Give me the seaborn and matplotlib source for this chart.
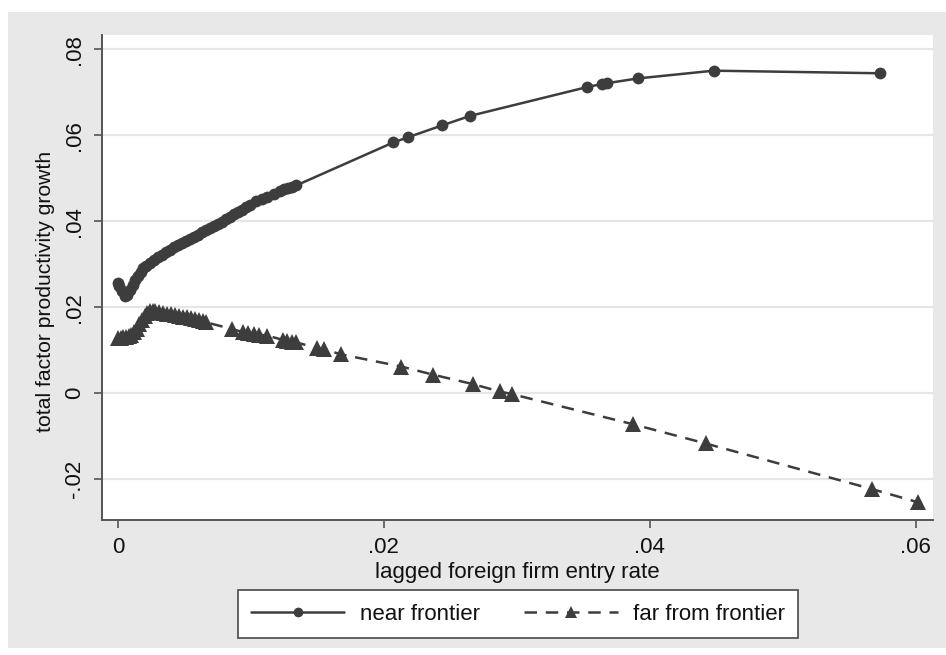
import numpy as np
import pandas as pd
import matplotlib
matplotlib.use("Agg")
import matplotlib.pyplot as plt
from matplotlib.patches import Rectangle
from matplotlib.lines import Line2D
import seaborn as sns

# Fitted TFP growth against lagged foreign entry, by distance to the frontier
near_x = [0.0000, 0.0001, 0.0003, 0.0005, 0.0007, 0.0009, 0.0011, 0.0013, 0.0015,
          0.0017, 0.0019, 0.0021, 0.0024, 0.0027, 0.0030, 0.0033, 0.0036, 0.0039,
          0.0042, 0.0045, 0.0048, 0.0051, 0.0054, 0.0057, 0.0060, 0.0063, 0.0066,
          0.0069, 0.0072, 0.0075, 0.0078, 0.0081, 0.0084, 0.0087, 0.0090, 0.0093,
          0.0096, 0.0099, 0.0104, 0.0108, 0.0112, 0.0117, 0.0122, 0.0125, 0.0128,
          0.0131, 0.0134, 0.0207, 0.0218, 0.0244, 0.0265, 0.0353, 0.0364, 0.0368,
          0.0391, 0.0448, 0.0573]
near_y = [0.0256, 0.0250, 0.0238, 0.0225, 0.0228, 0.0240, 0.0252, 0.0263, 0.0273,
          0.0282, 0.0290, 0.0296, 0.0303, 0.0310, 0.0316, 0.0322, 0.0328, 0.0334,
          0.0339, 0.0344, 0.0349, 0.0354, 0.0359, 0.0364, 0.0369, 0.0374, 0.0379,
          0.0384, 0.0389, 0.0394, 0.0399, 0.0404, 0.0410, 0.0416, 0.0421, 0.0427,
          0.0432, 0.0437, 0.0447, 0.0452, 0.0456, 0.0463, 0.0470, 0.0474, 0.0477,
          0.0480, 0.0483, 0.0583, 0.0595, 0.0623, 0.0645, 0.0712, 0.0719, 0.0721,
          0.0732, 0.0750, 0.0744]

far_x = [0.0000, 0.0002, 0.0004, 0.0006, 0.0008, 0.0010, 0.0012, 0.0014, 0.0016,
         0.0018, 0.0020, 0.0022, 0.0024, 0.0026, 0.0028, 0.0031, 0.0034, 0.0037,
         0.0040, 0.0043, 0.0046, 0.0049, 0.0052, 0.0055, 0.0058, 0.0061, 0.0064,
         0.0066, 0.0086, 0.0094, 0.0098, 0.0102, 0.0106, 0.0112, 0.0124, 0.0127,
         0.0131, 0.0134, 0.0150, 0.0155, 0.0168, 0.0213, 0.0237, 0.0267, 0.0287,
         0.0296, 0.0387, 0.0442, 0.0567, 0.0602]
far_y = [0.0128, 0.0129, 0.0130, 0.0131, 0.0133, 0.0136, 0.0142, 0.0150, 0.0160,
         0.0170, 0.0179, 0.0186, 0.0191, 0.0192, 0.0191, 0.0189, 0.0187, 0.0185,
         0.0183, 0.0181, 0.0179, 0.0178, 0.0177, 0.0175, 0.0173, 0.0171, 0.0168,
         0.0165, 0.0149, 0.0142, 0.0140, 0.0138, 0.0136, 0.0134, 0.0124, 0.0122,
         0.0120, 0.0118, 0.0105, 0.0102, 0.0090, 0.0062, 0.0043, 0.0021, 0.0004,
         -0.0002, -0.0072, -0.0117, -0.0223, -0.0254]

x_ticks = [0, 0.02, 0.04, 0.06]
x_tick_labels = ["0", ".02", ".04", ".06"]
y_ticks = [-0.02, 0, 0.02, 0.04, 0.06, 0.08]
y_tick_labels = ["-.02", "0", ".02", ".04", ".06", ".08"]

series_names = ["near frontier", "far from frontier"]

sns.set_theme(style="white")
plt.rcParams["font.family"] = ["Liberation Sans", "DejaVu Sans"]

ink = "#3d3d3d"
panel_gray = "#e8e8e8"
text_color = "#111111"
fs = 16

fig = plt.figure(figsize=(9.46, 6.55), dpi=100)
fig.patch.set_facecolor("white")
backdrop = Rectangle((8 / 946, 1 - 648 / 655), 938 / 946, 636 / 655,
                     transform=fig.transFigure, facecolor=panel_gray,
                     edgecolor="none", zorder=-10)
fig.add_artist(backdrop)

ax = fig.add_axes([102 / 946, 1 - 520 / 655, 831 / 946, 485 / 655])
ax.set_facecolor("white")

near = pd.DataFrame({"x": near_x, "y": near_y})
far = pd.DataFrame({"x": far_x, "y": far_y})

sns.lineplot(data=near, x="x", y="y", ax=ax, sort=False, estimator=None,
             color=ink, linewidth=1.8, marker="o", markersize=8.5,
             markeredgewidth=0, zorder=3)
sns.lineplot(data=far, x="x", y="y", ax=ax, sort=False, estimator=None,
             color=ink, linewidth=1.8, linestyle=(0, (5, 3.5)), marker="^",
             markersize=11, markeredgewidth=0, zorder=3)

ax.set_xlim(-0.0012, 0.0613)
ax.set_ylim(-0.0295, 0.0833)

ax.set_xticks(x_ticks)
ax.set_xticklabels(x_tick_labels)
ax.set_yticks(y_ticks)
ax.set_yticklabels(y_tick_labels, rotation=90, va="center")

for yv in y_ticks:
    ax.axhline(yv, color="#e6e6e6", linewidth=1.6, zorder=1)

for side in ["top", "right"]:
    ax.spines[side].set_visible(False)
for side in ["left", "bottom"]:
    ax.spines[side].set_color("#555555")
    ax.spines[side].set_linewidth(1.4)

ax.tick_params(axis="both", which="major", direction="out", length=6, width=1.2,
               color="#555555", labelsize=fs, labelcolor=text_color, pad=6,
               left=True, bottom=True)

ax.set_xlabel("lagged foreign firm entry rate", fontsize=fs, color=text_color,
              labelpad=3)
ax.set_ylabel("total factor productivity growth", fontsize=15.2, color=text_color)
ax.yaxis.set_label_coords(-0.056, 0.472)

handles = [
    Line2D([], [], color=ink, linewidth=1.8, marker="o", markersize=7,
           markeredgewidth=0),
    Line2D([], [], color=ink, linewidth=1.8, linestyle=(0, (5, 3.5)),
           marker="^", markersize=9, markeredgewidth=0),
]
leg = fig.legend(handles, series_names, loc="center",
                 bbox_to_anchor=(518 / 946, 1 - 614 / 655), ncol=2,
                 fontsize=fs, frameon=True, fancybox=False, framealpha=1,
                 edgecolor="#555555", handlelength=4.2, columnspacing=2.0,
                 handletextpad=0.7, borderpad=0.6, borderaxespad=0)
leg.get_frame().set_linewidth(1.3)
for t in leg.get_texts():
    t.set_color(text_color)

fig.savefig("out.png", dpi=100, facecolor=fig.get_facecolor())
